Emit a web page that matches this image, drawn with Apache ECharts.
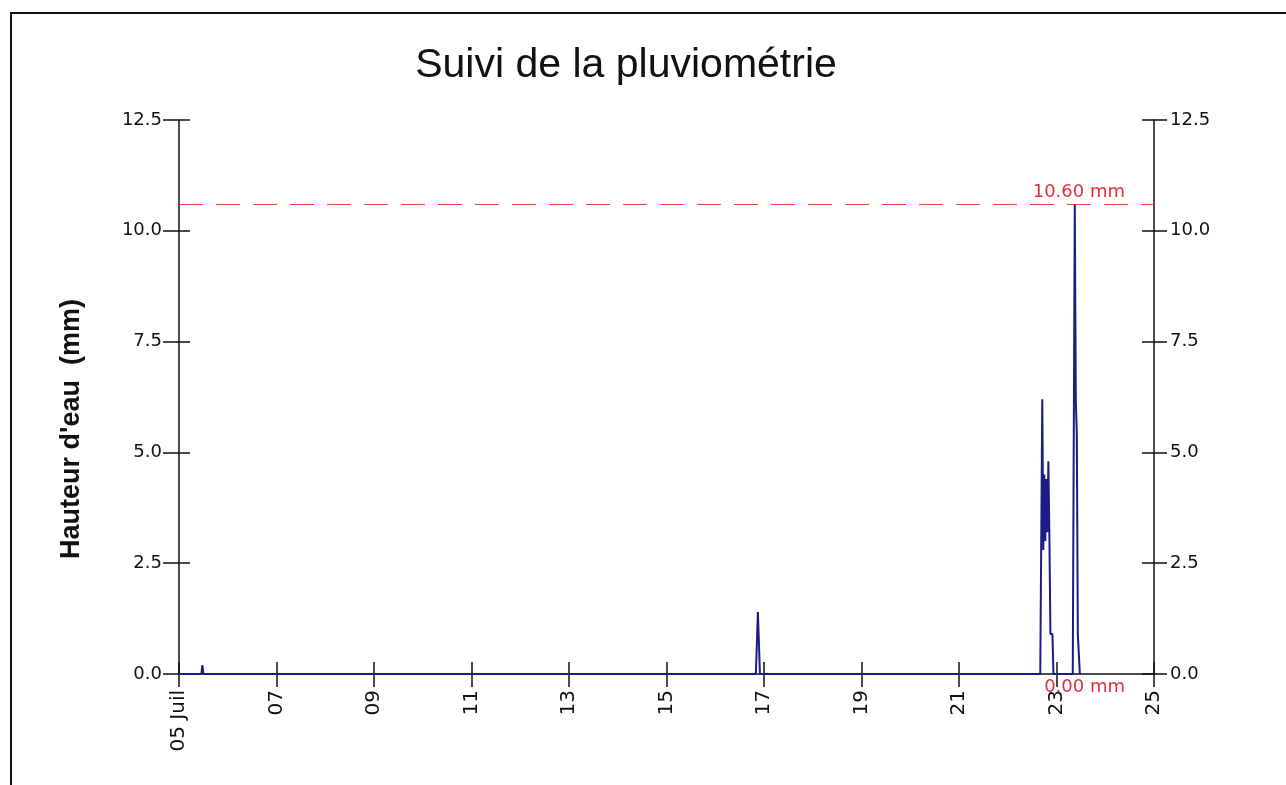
<!DOCTYPE html>
<html>
<head>
<meta charset="utf-8">
<script src="https://cdn.jsdelivr.net/npm/echarts@6/dist/echarts.min.js"></script>
<style>
html,body{margin:0;padding:0;background:#fff;}
#chart{width:1286px;height:785px;}
</style>
</head>
<body>
<div id="chart"></div>
<script>
// Chart text
const titleText = 'Suivi de la pluviométrie';
const yAxisTitle = "Hauteur d'eau  (mm)";
// X tick labels (every 2 days starting 05 Juil)
const xTickLabels = ['05 Juil', '07', '09', '11', '13', '15', '17', '19', '21', '23', '25'];
// Y tick labels
const yTickLabels = ['0.0', '2.5', '5.0', '7.5', '10.0', '12.5'];
// Readings: day of July + time, rainfall height (mm)
const times = [
  '05 00:00', '05 11:00', '05 11:30', '05 12:00',
  '16 20:00', '16 20:30', '16 21:00', '16 21:30', '16 22:00',
  '22 16:00', '22 16:30', '22 17:00', '22 17:30', '22 18:00', '22 18:30', '22 19:00', '22 19:30',
  '22 20:00', '22 20:30', '22 21:00', '22 21:30', '22 22:00', '22 22:30',
  '23 08:00', '23 08:30', '23 09:00', '23 09:30', '23 10:00', '23 10:30', '23 11:00', '23 11:30', '23 12:00'
];
const rain = [
  0, 0, 0.2, 0,
  0, 0.7, 1.4, 0.7, 0,
  0, 3.1, 6.2, 2.8, 4.5, 3.0, 4.4, 3.2,
  4.8, 3.1, 0.9, 0.9, 0.9, 0,
  0, 5.3, 10.6, 6.2, 5.4, 0.9, 0.9, 0, 0
];
const maxLabel = '10.60 mm';
const minLabel = '0.00 mm';

function toDay(t) {
  const [d, hm] = t.split(' ');
  const [h, m] = hm.split(':').map(Number);
  return (parseInt(d, 10) - 5) + h / 24 + m / 1440;
}
const seriesData = times.map((t, i) => [toDay(t), rain[i]]);
const maxVal = Math.max(...rain);
const minVal = Math.min(...rain);

const chart = echarts.init(document.getElementById('chart'));
const font = 'Liberation Sans, Arial, sans-serif';
const tickFont = 'DejaVu Sans, sans-serif';
const axisColor = '#111';
const xLabelFmt = v => xTickLabels[Math.round(v / 2)] || '';
const yLabelFmt = v => yTickLabels[Math.round(v / 2.5)] || '';

const commonX = { type: 'value', min: 0, max: 20, interval: 2, splitLine: { show: false } };
const commonY = { type: 'value', min: 0, max: 12.5, interval: 2.5, splitLine: { show: false } };

chart.setOption({
  animation: false,
  backgroundColor: '#fff',
  title: {
    text: titleText,
    left: 621, top: 40, textAlign: 'center',
    textStyle: { fontFamily: font, fontSize: 41, fontWeight: 'normal', color: '#111' }
  },
  grid: { left: 179, right: 132, top: 120, bottom: 111, containLabel: false },
  xAxis: [
    Object.assign({}, commonX, {
      position: 'bottom',
      axisLine: { show: true, lineStyle: { color: axisColor, width: 1.5 } },
      axisTick: { show: true, inside: false, length: 13, lineStyle: { color: axisColor, width: 1.5 } },
      axisLabel: { color: '#111', fontSize: 20, fontFamily: tickFont, rotate: 90, margin: 16, formatter: xLabelFmt }
    }),
    Object.assign({}, commonX, {
      position: 'bottom',
      axisLine: { show: false },
      axisTick: { show: true, inside: true, length: 12, lineStyle: { color: axisColor, width: 1.5 } },
      axisLabel: { show: false }
    })
  ],
  yAxis: [
    Object.assign({}, commonY, {
      position: 'left',
      axisLine: { show: true, lineStyle: { color: axisColor, width: 1.5 } },
      axisTick: { show: true, inside: false, length: 16, lineStyle: { color: axisColor, width: 1.5 } },
      axisLabel: { color: '#111', fontSize: 18, fontFamily: tickFont, margin: 17, formatter: yLabelFmt }
    }),
    Object.assign({}, commonY, {
      position: 'left',
      axisLine: { show: false },
      axisTick: { show: true, inside: true, length: 11, lineStyle: { color: axisColor, width: 1.5 } },
      axisLabel: { show: false }
    }),
    Object.assign({}, commonY, {
      position: 'right',
      axisLine: { show: true, lineStyle: { color: axisColor, width: 1.5 } },
      axisTick: { show: true, inside: false, length: 13, lineStyle: { color: axisColor, width: 1.5 } },
      axisLabel: { color: '#111', fontSize: 18, fontFamily: tickFont, margin: 16, formatter: yLabelFmt }
    }),
    Object.assign({}, commonY, {
      position: 'right',
      axisLine: { show: false },
      axisTick: { show: true, inside: true, length: 12, lineStyle: { color: axisColor, width: 1.5 } },
      axisLabel: { show: false }
    })
  ],
  graphic: [
    {
      type: 'polyline',
      shape: { points: [[11, 785], [11, 13], [1286, 13]] },
      style: { stroke: '#111', lineWidth: 2, fill: null }
    },
    {
      type: 'text',
      x: 72, y: 429, rotation: Math.PI / 2,
      style: { text: yAxisTitle, fill: '#111', font: 'bold 27px Liberation Sans, Arial, sans-serif',
               textAlign: 'center', textVerticalAlign: 'middle' }
    }
  ],
  series: [{
    type: 'line',
    xAxisIndex: 0, yAxisIndex: 0,
    data: seriesData,
    showSymbol: false,
    lineStyle: { color: '#1c1c86', width: 2 },
    z: 3,
    markLine: {
      silent: true,
      symbol: 'none',
      data: [
        {
          yAxis: maxVal,
          lineStyle: { color: '#e8483a', type: [24, 13], width: 1.2 },
          label: { show: true, position: 'insideEndTop', distance: [29, 3], formatter: maxLabel,
                   color: '#e0303f', fontSize: 18, fontFamily: tickFont }
        },
        {
          yAxis: minVal,
          lineStyle: { color: 'rgba(0,0,0,0)', width: 0.01 },
          label: { show: true, position: 'insideEndBottom', distance: [29, 4], formatter: minLabel,
                   color: '#e0303f', fontSize: 18, fontFamily: tickFont }
        }
      ]
    }
  }]
});
</script>
</body>
</html>
